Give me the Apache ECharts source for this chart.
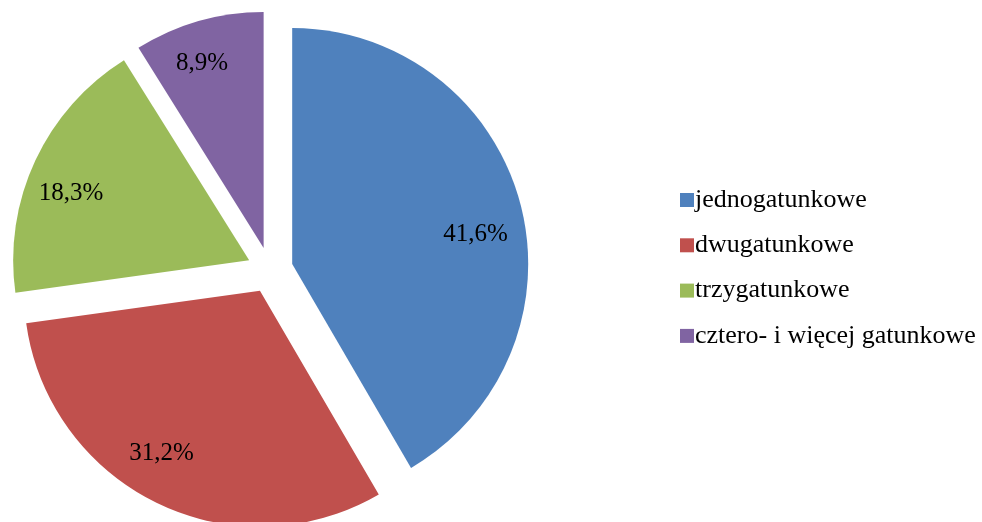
<!DOCTYPE html>
<html>
<head>
<meta charset="utf-8">
<script src="https://cdn.jsdelivr.net/npm/echarts@6/dist/echarts.min.js"></script>
<style>
html,body{margin:0;padding:0;background:#fff;}
#chart{width:982px;height:522px;}
</style>
</head>
<body>
<div id="chart"></div>
<script>
var categories = ['jednogatunkowe', 'dwugatunkowe', 'trzygatunkowe', 'cztero- i więcej gatunkowe'];
var values = [41.6, 31.2, 18.3, 8.9];
var colors = ['#4F81BD', '#C0504D', '#9BBB59', '#8064A2'];

var font = '"Liberation Serif", "Times New Roman", serif';
var cx = 270, cy = 270, R = 236, off = 23;
// small label nudges to mimic the original label placement
var labelNudge = [[-1, 20], [-15, -9], [-5, 14], [-9, -1]];

function fmt(v){ return v.toFixed(1).replace('.', ',') + '%'; }

var mainData = categories.map(function(c, i){
  return { name: c, value: values[i], selected: true, itemStyle: { color: colors[i] } };
});
var labelData = categories.map(function(c, i){
  return { name: c, value: values[i], selected: true };
});

var chart = echarts.init(document.getElementById('chart'), null, {renderer: 'canvas'});
chart.setOption({
  animation: false,
  backgroundColor: '#ffffff',
  legend: {
    orient: 'vertical',
    left: 675,
    top: 182,
    itemWidth: 14,
    itemHeight: 14,
    itemGap: 19.3,
    icon: 'rect',
    selectedMode: false,
    data: categories,
    textStyle: { fontFamily: font, fontSize: 26, color: '#000', lineHeight: 26, padding: [0,0,0,-4] }
  },
  series: [
    {
      type: 'pie',
      center: [cx, cy],
      radius: [0, R],
      startAngle: 90,
      clockwise: true,
      selectedMode: 'multiple',
      selectedOffset: off,
      silent: true,
      label: { show: false },
      labelLine: { show: false },
      emphasis: { disabled: true },
      data: mainData
    },
    {
      type: 'pie',
      center: [cx, cy],
      radius: [140, R],
      startAngle: 90,
      clockwise: true,
      selectedMode: 'multiple',
      selectedOffset: off,
      silent: true,
      itemStyle: { color: 'rgba(0,0,0,0)' },
      label: {
        show: true,
        position: 'inside',
        fontFamily: font,
        fontSize: 25,
        color: '#000',
        formatter: function(p){ return fmt(p.value); }
      },
      labelLayout: function(p){
        var n = labelNudge[p.dataIndex];
        return { dx: n[0], dy: n[1] };
      },
      labelLine: { show: false },
      emphasis: { disabled: true },
      data: labelData
    }
  ]
});
</script>
</body>
</html>
